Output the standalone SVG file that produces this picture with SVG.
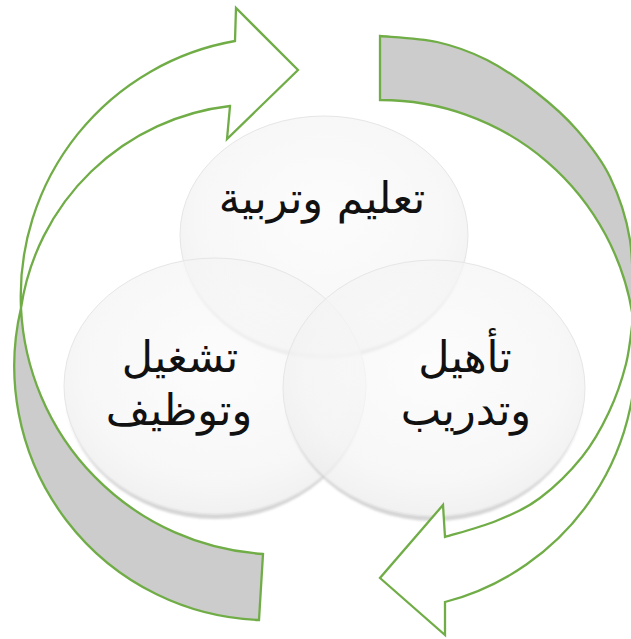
<svg xmlns="http://www.w3.org/2000/svg" width="631" height="639" viewBox="0 0 631 639">
<style>
.arrow{stroke:#70AD47;stroke-width:2.3;stroke-linejoin:miter}
.front{fill:#ffffff}
.back{fill:#cccccc}
.disc{fill:url(#discGrad);fill-opacity:0.7;stroke:#e6e6e6;stroke-width:1}
.rim{fill:#cfcfcf;fill-opacity:0.85;filter:url(#soft)}
.lbl{font-family:"DejaVu Sans",sans-serif;font-size:43px;fill:#111111;text-anchor:middle}
</style>
<defs>
<radialGradient id="discGrad" cx="50%" cy="42%" r="58%">
<stop offset="0" stop-color="#fbfbfb"/>
<stop offset="0.75" stop-color="#f4f4f4"/>
<stop offset="1" stop-color="#ebebeb"/>
</radialGradient>
<filter id="soft" x="-10%" y="-10%" width="120%" height="130%">
<feGaussianBlur stdDeviation="1.2"/>
</filter>
</defs>

<g id="circle-top">
<path class="rim" d="M 180,235 A 144 119 0 0 0 468,235 A 144 124 0 0 1 180,235 Z"/>
<ellipse class="disc" cx="324" cy="235" rx="144" ry="119"/>
</g>
<g id="circle-left">
<path class="rim" d="M 64,386 A 151 128 0 0 0 366,386 A 151 133 0 0 1 64,386 Z"/>
<ellipse class="disc" cx="215" cy="386" rx="151" ry="128"/>
</g>
<g id="circle-right">
<path class="rim" d="M 283,388 A 151 128 0 0 0 585,388 A 151 133 0 0 1 283,388 Z"/>
<ellipse class="disc" cx="434" cy="388" rx="151" ry="128"/>
</g>

<g id="connectors">
<path class="arrow back" d="M 21,308 A 259 259 0 0 0 263,554 L 259,620 A 254 254 0 0 1 21,308 Z"/>
<path class="arrow front" d="M 21,308 A 259 259 0 0 1 235,41 L 236,8 L 298,70 L 227,139 L 230,106 A 238.6 238.6 0 0 0 21,308 Z"/>
<path class="arrow back" d="M 380,36 C 389.5,37 419.2,38 437,42 C 454.8,46 470.3,51.5 487,60 C 503.7,68.5 522,81.3 537,93 C 552,104.7 564.8,116 577,130 C 589.2,144 601.2,158.7 610,177 C 618.8,195.3 626.2,216.5 630,240 C 633.8,263.5 632.5,305 633,318 A 255 255 0 0 0 380,100 Z"/>
<path class="arrow front" d="M 633,318 A 255 255 0 0 1 445,602 L 445,635 L 380,578 L 443,505 L 445,537 C 453.5,534.3 480.2,527.5 496,521 C 511.8,514.5 525.7,508.7 540,498 C 554.3,487.3 570.5,471.3 582,457 C 593.5,442.7 601.7,427.5 609,412 C 616.3,396.5 622,379.7 626,364 C 630,348.3 631.8,325.7 633,318 Z"/>
</g>

<g id="label-top">
<text class="lbl" x="322" y="213" direction="rtl">تعليم وتربية</text>
</g>
<g id="label-left">
<text class="lbl" x="180" y="372" direction="rtl">تشغيل</text>
<text class="lbl" x="179" y="425" direction="rtl">وتوظيف</text>
</g>
<g id="label-right">
<text class="lbl" x="465" y="372" direction="rtl">تأهيل</text>
<text class="lbl" x="466" y="425" direction="rtl">وتدريب</text>
</g>
</svg>
